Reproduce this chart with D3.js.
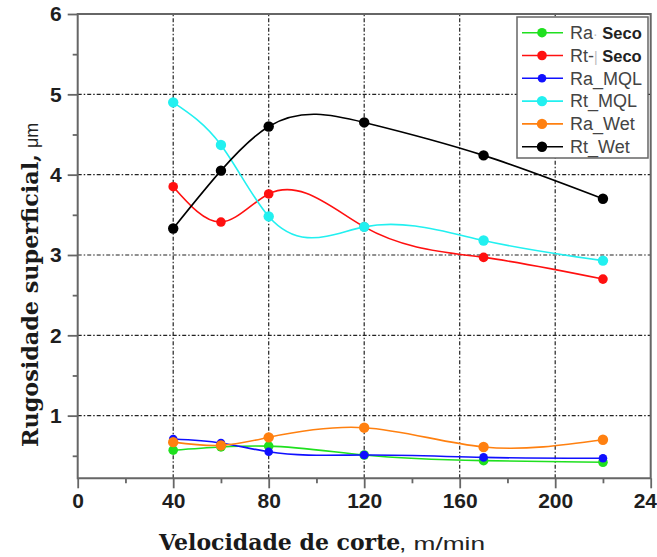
<!DOCTYPE html>
<html>
<head>
<meta charset="utf-8">
<script src="https://cdn.jsdelivr.net/npm/d3@7"></script>
<style>
  html, body { margin: 0; padding: 0; background: #fff; }
  svg { display: block; }
</style>
</head>
<body>
<svg id="chart" width="657" height="557"></svg>
<script>
// Cutting speed (m/min) at which roughness was measured
const speeds = [40, 60, 80, 120, 170, 220];

// Surface roughness (µm) for each lubrication condition
const raSeco = [0.57, 0.61, 0.62, 0.51, 0.44, 0.42];
const rtSeco = [3.85, 3.41, 3.76, 3.35, 2.97, 2.70];
const raMQL  = [0.71, 0.66, 0.55, 0.51, 0.48, 0.47];
const rtMQL  = [4.90, 4.37, 3.48, 3.35, 3.18, 2.93];
const raWet  = [0.67, 0.63, 0.73, 0.85, 0.61, 0.70];
const rtWet  = [3.33, 4.05, 4.60, 4.65, 4.24, 3.70];

// Axis ticks
const xTicks = [0, 40, 80, 120, 160, 200, 240];
const xMinor = [20, 60, 100, 140, 180, 220];
const yTicks = [1, 2, 3, 4, 5, 6];
const yMinor = [0.5, 1.5, 2.5, 3.5, 4.5, 5.5];

const series = [
  { name: ["Ra", "·", "Seco"], values: raSeco, color: "#1fe01f", r: 4.8 },
  { name: ["Rt-", "|", "Seco"], values: rtSeco, color: "#ff1010", r: 4.8 },
  { name: ["Ra_MQL"], values: raMQL, color: "#1010ff", r: 4.3 },
  { name: ["Rt_MQL"], values: rtMQL, color: "#22f0f0", r: 5.2 },
  { name: ["Ra_Wet"], values: raWet, color: "#ff8010", r: 5.2 },
  { name: ["Rt_Wet"], values: rtWet, color: "#000000", r: 5.2 }
];

// Natural cubic spline y(x) as a d3 curve: each interval becomes one cubic Bézier
function SplineX(context) { this._context = context; }
SplineX.prototype = {
  areaStart() { this._line = 0; },
  areaEnd() { this._line = NaN; },
  lineStart() { this._x = []; this._y = []; },
  point(x, y) { this._x.push(+x); this._y.push(+y); },
  lineEnd() {
    const xs = this._x, ys = this._y, n = xs.length, c = this._context;
    if (!n) return;
    c.moveTo(xs[0], ys[0]);
    if (n === 1) return;
    if (n === 2) { c.lineTo(xs[1], ys[1]); return; }
    const h = [], M = new Array(n).fill(0);
    for (let i = 0; i < n - 1; i++) h.push(xs[i + 1] - xs[i]);
    // Tridiagonal system for the second derivatives (natural ends)
    const a = [], b = [], cc = [], d = [];
    for (let i = 1; i < n - 1; i++) {
      a.push(h[i - 1]);
      b.push(2 * (h[i - 1] + h[i]));
      cc.push(h[i]);
      d.push(6 * ((ys[i + 1] - ys[i]) / h[i] - (ys[i] - ys[i - 1]) / h[i - 1]));
    }
    const m = b.length;
    for (let i = 1; i < m; i++) {
      const w = a[i] / b[i - 1];
      b[i] -= w * cc[i - 1];
      d[i] -= w * d[i - 1];
    }
    const sol = new Array(m);
    sol[m - 1] = d[m - 1] / b[m - 1];
    for (let i = m - 2; i >= 0; i--) sol[i] = (d[i] - cc[i] * sol[i + 1]) / b[i];
    for (let i = 0; i < m; i++) M[i + 1] = sol[i];
    // Slopes at the knots
    const s = [];
    for (let i = 0; i < n - 1; i++) {
      s.push((ys[i + 1] - ys[i]) / h[i] - h[i] * (2 * M[i] + M[i + 1]) / 6);
    }
    s.push((ys[n - 1] - ys[n - 2]) / h[n - 2] + h[n - 2] * (M[n - 2] + 2 * M[n - 1]) / 6);
    for (let i = 0; i < n - 1; i++) {
      const dx = h[i] / 3;
      c.bezierCurveTo(xs[i] + dx, ys[i] + s[i] * dx,
                      xs[i + 1] - dx, ys[i + 1] - s[i + 1] * dx,
                      xs[i + 1], ys[i + 1]);
    }
  }
};
const curveSplineX = context => new SplineX(context);

const svg = d3.select("#chart");

const x = d3.scaleLinear().domain([0, 240]).range([77.7, 650.7]);
const y = d3.scaleLinear().domain([0.22, 6]).range([478.3, 14]);

const [x0, x1] = x.range();
const [yb, yt] = y.range();

// Dash-dot grid at the major ticks
const grid = svg.append("g")
  .attr("stroke", "#222")
  .attr("stroke-width", 1.2)
  .attr("stroke-dasharray", "4,2,1.5,2");
grid.selectAll("line.v").data([40, 80, 120, 160, 200]).join("line")
  .attr("class", "v")
  .attr("x1", d => x(d)).attr("x2", d => x(d))
  .attr("y1", yb).attr("y2", yt);
grid.selectAll("line.h").data([1, 2, 3, 4, 5]).join("line")
  .attr("class", "h")
  .attr("x1", x0).attr("x2", x1)
  .attr("y1", d => y(d)).attr("y2", d => y(d));

// Axes
const axisColor = "#666";
const tickFont = "bold 21px 'Liberation Sans', Arial, sans-serif";

const gx = svg.append("g").attr("transform", `translate(0,${yb})`)
  .call(d3.axisBottom(x).tickValues(xTicks).tickFormat(d3.format("d"))
    .tickSize(10).tickSizeOuter(0).tickPadding(5));
const gxm = svg.append("g").attr("transform", `translate(0,${yb})`)
  .call(d3.axisBottom(x).tickValues(xMinor).tickFormat("").tickSize(5).tickSizeOuter(0));

const gy = svg.append("g").attr("transform", `translate(${x0},0)`)
  .call(d3.axisLeft(y).tickValues(yTicks).tickFormat(d3.format("d"))
    .tickSize(10).tickSizeOuter(0).tickPadding(6));
const gym = svg.append("g").attr("transform", `translate(${x0},0)`)
  .call(d3.axisLeft(y).tickValues(yMinor).tickFormat("").tickSize(5).tickSizeOuter(0));

[gx, gxm, gy, gym].forEach(g => {
  g.select(".domain").remove();
  g.selectAll(".tick line").attr("stroke", axisColor).attr("stroke-width", 1.8);
  g.selectAll(".tick text").attr("fill", "#1e1e1e").style("font", tickFont);
});

// Frame
const frame = svg.append("g").attr("stroke", axisColor).attr("stroke-width", 2).attr("fill", "none");
frame.append("path").attr("d", `M${x0},${yb}H${x1}V${yt}H${x0}Z`);

// Smooth lines with markers
const line = d3.line()
  .x((d, i) => x(speeds[i]))
  .y(d => y(d))
  .curve(curveSplineX);

const plot = svg.append("g");
series.forEach(s => {
  const g = plot.append("g");
  g.append("path")
    .attr("d", line(s.values))
    .attr("fill", "none")
    .attr("stroke", s.color)
    .attr("stroke-width", 1.6);
  g.selectAll("circle").data(s.values).join("circle")
    .attr("cx", (d, i) => x(speeds[i]))
    .attr("cy", d => y(d))
    .attr("r", s.r)
    .attr("fill", s.color);
});

// Legend
const legend = svg.append("g");
legend.append("rect")
  .attr("x", 517).attr("y", 17)
  .attr("width", 131).attr("height", 141)
  .attr("fill", "#fff")
  .attr("stroke", "#666")
  .attr("stroke-width", 1.5);

series.forEach((s, i) => {
  const cy = 32.7 + i * 22.8;
  const row = legend.append("g");
  row.append("line")
    .attr("x1", 522).attr("x2", 563)
    .attr("y1", cy).attr("y2", cy)
    .attr("stroke", s.color)
    .attr("stroke-width", 1.6);
  row.append("circle")
    .attr("cx", 542).attr("cy", cy)
    .attr("r", s.r)
    .attr("fill", s.color);
  const t = row.append("text")
    .attr("x", 570).attr("y", cy + 6.3)
    .style("font", "18px 'Liberation Sans', Arial, sans-serif")
    .attr("fill", "#444");
  if (s.name.length === 1) {
    t.text(s.name[0]);
  } else {
    t.append("tspan").text(s.name[0]);
    t.append("tspan").text(s.name[1]).attr("fill", "#bbb").style("font-size", "14px");
    t.append("tspan").text(" " + s.name[2])
      .style("font-weight", "bold").style("font-size", "16.5px").attr("fill", "#222");
  }
});

// Axis titles: serif name followed by the unit in a sans face
svg.append("text")
  .attr("x", 159).attr("y", 549.5)
  .attr("fill", "#1a1a1a")
  .style("font", "bold 22px 'DejaVu Serif', serif")
  .text("Velocidade de corte");
svg.append("text")
  .attr("x", 399).attr("y", 549.5)
  .attr("fill", "#222")
  .attr("textLength", 86)
  .attr("lengthAdjust", "spacingAndGlyphs")
  .style("font", "19px 'Liberation Sans', Arial, sans-serif")
  .text(", m/min");

const yTitle = svg.append("g").attr("transform", "translate(38,447) rotate(-90)");
yTitle.append("text")
  .attr("x", 0).attr("y", 0)
  .attr("fill", "#1a1a1a")
  .attr("textLength", 293)
  .attr("lengthAdjust", "spacingAndGlyphs")
  .style("font", "bold 21.5px 'DejaVu Serif', serif")
  .text("Rugosidade superficial,");
yTitle.append("text")
  .attr("x", 299).attr("y", 0)
  .attr("fill", "#222")
  .style("font", "18px 'Liberation Sans', Arial, sans-serif")
  .text("μm");
</script>
</body>
</html>
